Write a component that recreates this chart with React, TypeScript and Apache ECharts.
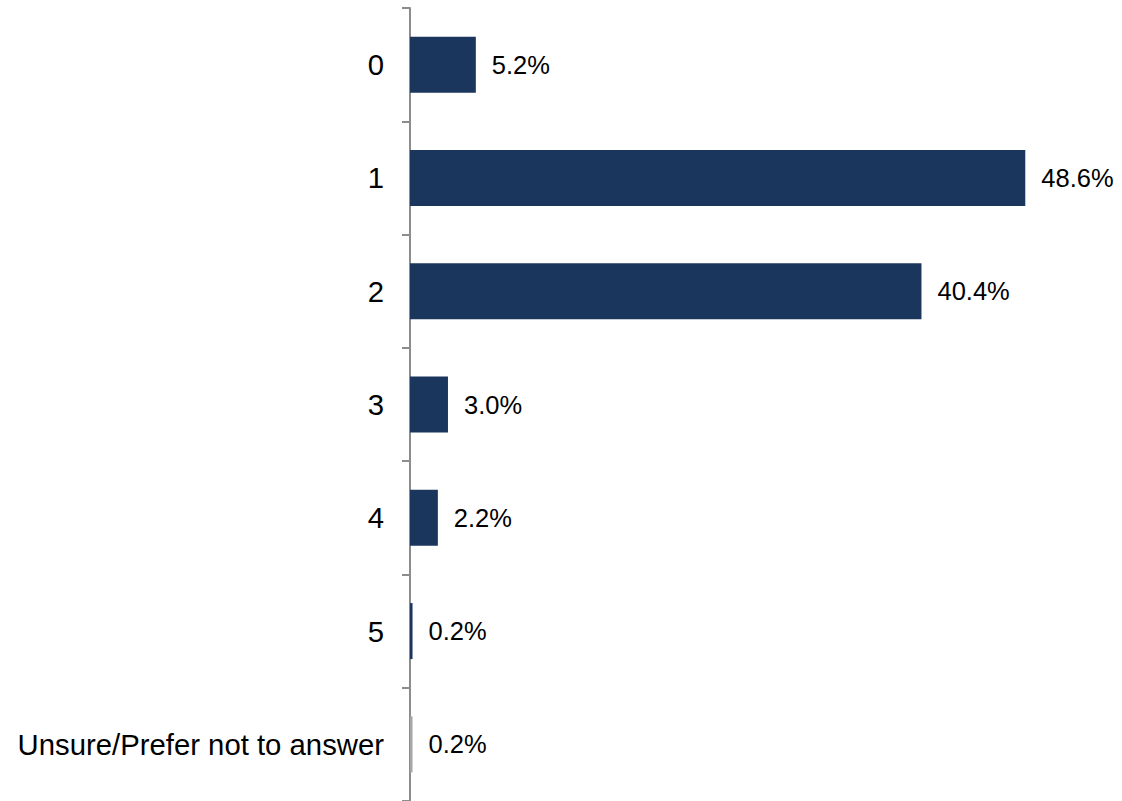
import React, { useEffect, useRef } from "react";
import * as echarts from "echarts";

const categories = ["0", "1", "2", "3", "4", "5", "Unsure/Prefer not to answer"];
const values = [5.2, 48.6, 40.4, 3.0, 2.2, 0.2, 0.2];
const barColors = ["#1b365d", "#1b365d", "#1b365d", "#1b365d", "#1b365d", "#1b365d", "#a6a6a6"];

export default function App() {
  const ref = useRef<HTMLDivElement>(null);
  useEffect(() => {
    if (!ref.current) return;
    const chart = echarts.init(ref.current, null, { renderer: "svg" });
    chart.setOption({
      animation: false,
      backgroundColor: "#ffffff",
      grid: { left: 410, top: 8, width: 633, height: 793, containLabel: false },
      xAxis: {
        type: "value",
        min: 0,
        max: 50,
        show: false,
      },
      yAxis: {
        type: "category",
        inverse: true,
        data: categories,
        axisLine: { show: true, lineStyle: { color: "#8c8c8c", width: 2 } },
        axisTick: { show: true, length: 8, lineStyle: { color: "#8c8c8c", width: 2 } },
        axisLabel: {
          margin: 26,
          color: "#000000",
          fontFamily: "Liberation Sans, Arial, sans-serif",
          fontSize: 29.3,
        },
        splitLine: { show: false },
      },
      series: [
        {
          type: "bar",
          data: values.map((v, i) => ({ value: v, itemStyle: { color: barColors[i] } })),
          barWidth: 56,
          label: {
            show: true,
            position: "right",
            distance: 16,
            color: "#000000",
            fontFamily: "Liberation Sans, Arial, sans-serif",
            fontSize: 25.5,
            formatter: (p: any) => Number(p.value).toFixed(1) + "%",
          },
        },
      ],
    });
    return () => chart.dispose();
  }, []);
  return (
    <div
      ref={ref}
      style={{ position: "fixed", left: 0, top: 0, width: 1122, height: 801 }}
    />
  );
}
